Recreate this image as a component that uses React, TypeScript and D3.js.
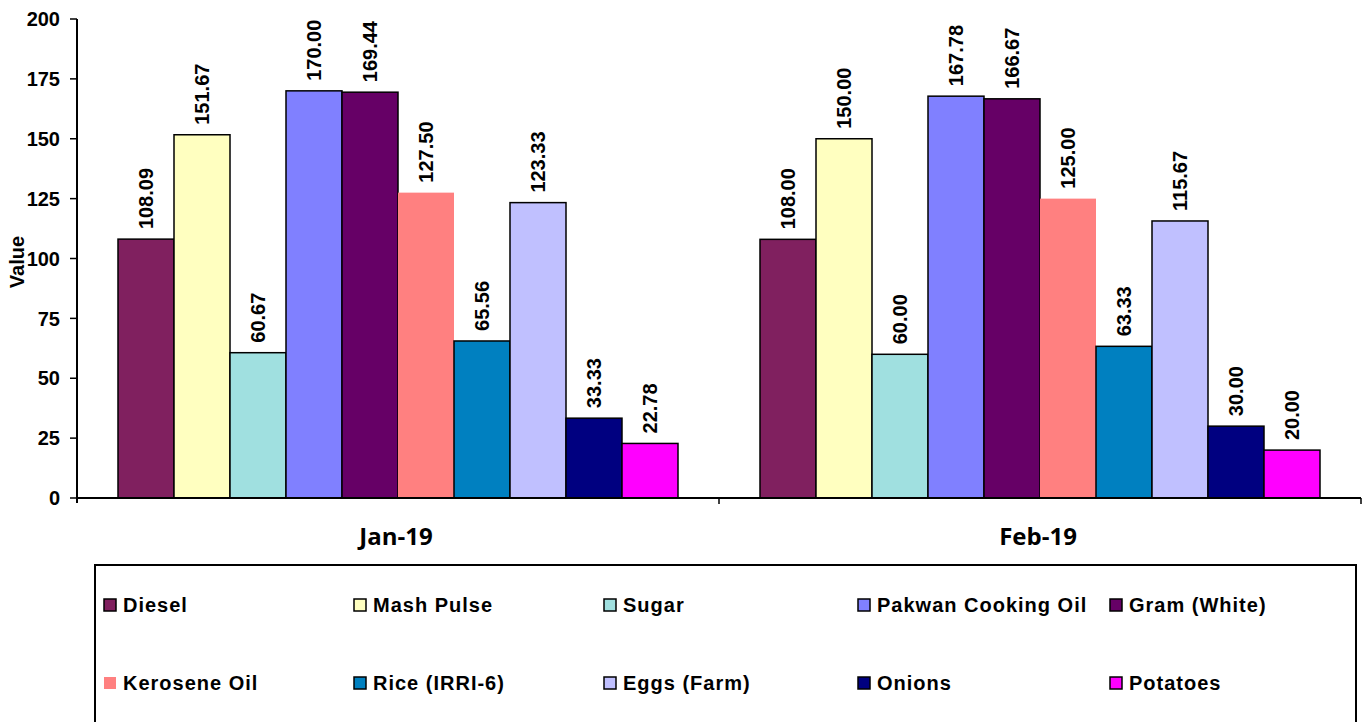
import { useEffect } from "react";
import * as d3 from "d3";

const categories = ["Jan-19", "Feb-19"];
const series = [
  "Diesel",
  "Mash Pulse",
  "Sugar",
  "Pakwan Cooking Oil",
  "Gram (White)",
  "Kerosene Oil",
  "Rice (IRRI-6)",
  "Eggs (Farm)",
  "Onions",
  "Potatoes",
];
const jan19 = [108.09, 151.67, 60.67, 170.0, 169.44, 127.5, 65.56, 123.33, 33.33, 22.78];
const feb19 = [108.0, 150.0, 60.0, 167.78, 166.67, 125.0, 63.33, 115.67, 30.0, 20.0];
const yTicks = [0, 25, 50, 75, 100, 125, 150, 175, 200];

const colors = [
  "#80205F",
  "#FFFFC0",
  "#A0E0E0",
  "#8080FF",
  "#660066",
  "#FF8080",
  "#0080C0",
  "#C0C0FF",
  "#000080",
  "#FF00FF",
];
// Kerosene Oil is drawn without an outline in the original
const noStroke = ["Kerosene Oil"];

const W = 1362;
const H = 722;
const left = 77;
const right = 1361;
const top = 19;
const bottom = 498;
const font = "'Liberation Sans', Arial, sans-serif";

export default function App() {
  useEffect(() => {
    document.body.style.margin = "0";
  }, []);

  const values = [jan19, feb19];
  const x = d3.scaleBand().domain(categories).range([left, right]).padding(0);
  const gap = (x.bandwidth() * 82) / 642;
  const xs = d3
    .scaleBand()
    .domain(series)
    .range([gap / 2, x.bandwidth() - gap / 2])
    .padding(0);
  const y = d3.scaleLinear().domain([0, 200]).range([bottom, top]);

  const legendCols = [104, 354, 604, 858, 1110];
  const legendRows = [605, 683];

  return (
    <svg width={W} height={H} style={{ display: "block", background: "#fff" }}>
      {/* bars */}
      {categories.map((c, ci) => (
        <g key={c} transform={`translate(${x(c)},0)`}>
          {series.map((s, si) => {
            const v = values[ci][si];
            const bx = xs(s) ?? 0;
            const cx = bx + xs.bandwidth() / 2;
            return (
              <g key={s}>
                <rect
                  x={bx}
                  y={y(v)}
                  width={xs.bandwidth()}
                  height={bottom - y(v)}
                  fill={colors[si]}
                  stroke={noStroke.includes(s) ? "none" : "#000"}
                  strokeWidth={1.5}
                />
                <text
                  transform={`translate(${cx + 7},${y(v) - 10}) rotate(-90)`}
                  fontFamily={font}
                  fontWeight="bold"
                  fontSize={20}
                  fill="#000"
                >
                  {v.toFixed(2)}
                </text>
              </g>
            );
          })}
        </g>
      ))}

      {/* y axis */}
      <line x1={left} x2={left} y1={top} y2={bottom + 5} stroke="#000" strokeWidth={2} />
      {yTicks.map((t) => (
        <g key={t}>
          <line x1={left - 7} x2={left} y1={y(t)} y2={y(t)} stroke="#000" strokeWidth={1.5} />
          <text
            x={60}
            y={y(t)}
            dy="0.36em"
            textAnchor="end"
            fontFamily={font}
            fontWeight="bold"
            fontSize={20}
          >
            {t}
          </text>
        </g>
      ))}
      <text
        transform={`translate(24,262) rotate(-90)`}
        textAnchor="middle"
        fontFamily={font}
        fontWeight="bold"
        fontSize={20}
      >
        Value
      </text>

      {/* x axis */}
      <line x1={left} x2={right} y1={bottom} y2={bottom} stroke="#000" strokeWidth={2} />
      {categories.map((c, i) => {
        const px = (x(c) ?? 0) + x.bandwidth();
        return (
          <line key={i} x1={px} x2={px} y1={bottom} y2={bottom + 6} stroke="#000" strokeWidth={1.5} />
        );
      })}
      {categories.map((c) => (
        <text
          key={c}
          x={(x(c) ?? 0) + x.bandwidth() / 2 - 2}
          y={545}
          textAnchor="middle"
          fontFamily="'Open Sans', sans-serif"
          fontWeight="bold"
          fontSize={24}
        >
          {c}
        </text>
      ))}

      {/* legend */}
      <rect x={95} y={565} width={1261} height={200} fill="#fff" stroke="#000" strokeWidth={2} />
      {series.map((s, si) => {
        const lx = legendCols[si % 5];
        const ly = legendRows[Math.floor(si / 5)];
        return (
          <g key={s}>
            <rect
              x={lx}
              y={ly - 6}
              width={12}
              height={12}
              fill={colors[si]}
              stroke={noStroke.includes(s) ? "none" : "#000"}
              strokeWidth={1.5}
            />
            <text
              x={lx + 19}
              y={ly}
              dy="0.36em"
              fontFamily={font}
              fontWeight="bold"
              fontSize={20}
              letterSpacing={1}
            >
              {s}
            </text>
          </g>
        );
      })}
    </svg>
  );
}
